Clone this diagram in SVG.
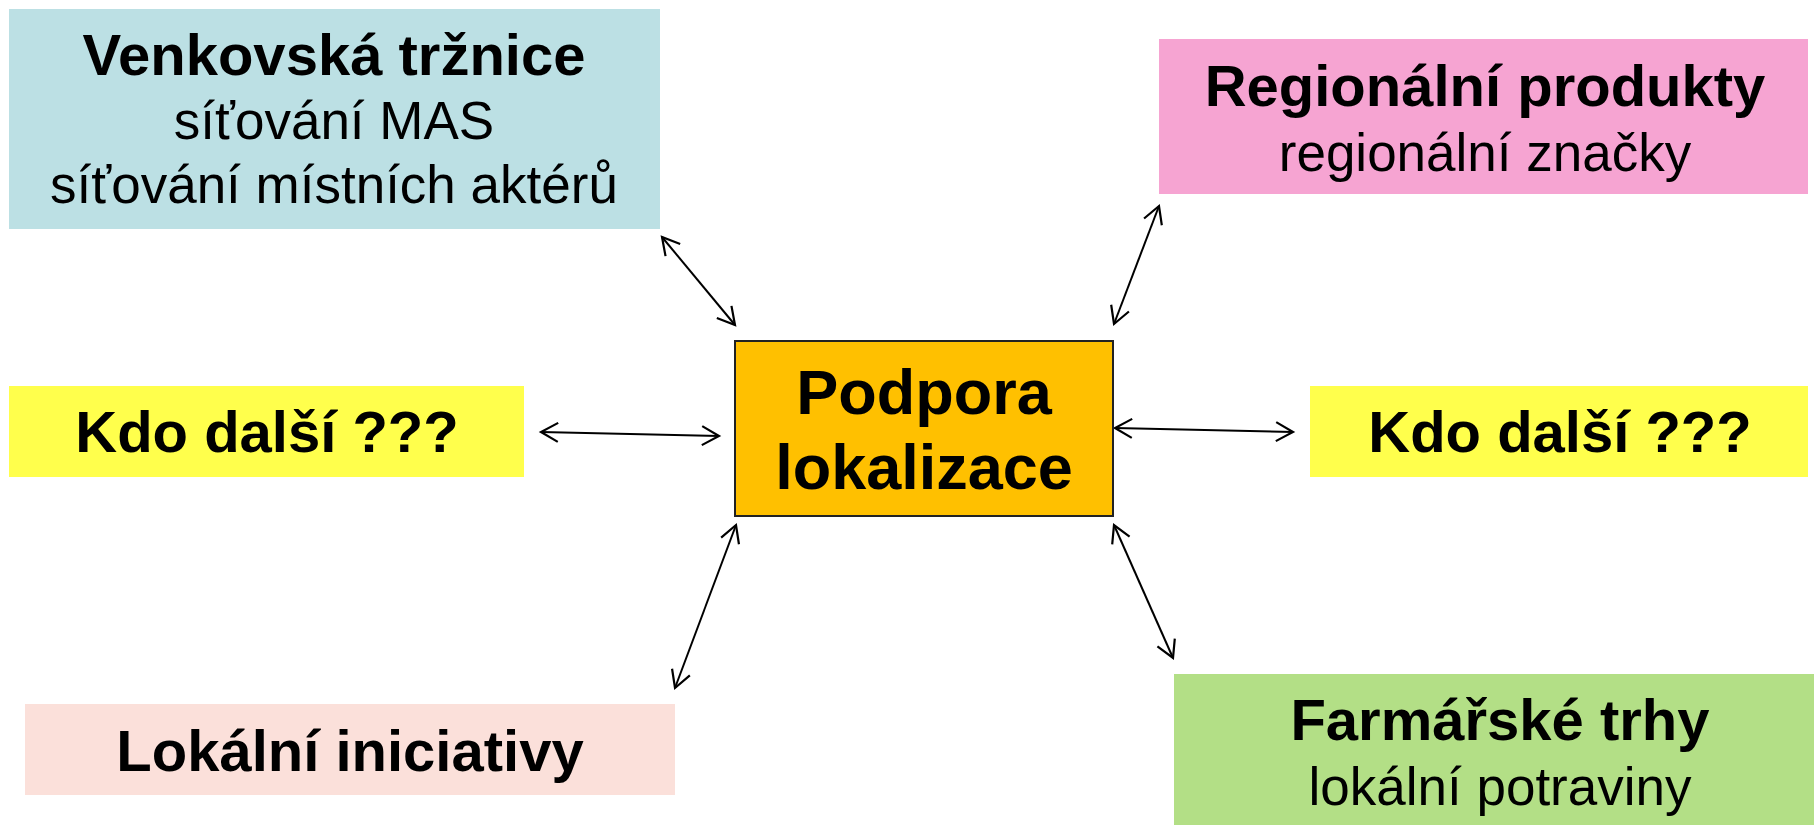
<svg xmlns="http://www.w3.org/2000/svg" width="1814" height="825" viewBox="0 0 1814 825">
<defs>
<style>
.b{font-family:"Liberation Sans",Arial,sans-serif;font-weight:bold;font-size:58px;fill:#000;text-anchor:middle}
.r{font-family:"Liberation Sans",Arial,sans-serif;font-size:53px;fill:#000;text-anchor:middle}
.c{font-family:"Liberation Sans",Arial,sans-serif;font-weight:bold;font-size:63px;fill:#000;text-anchor:middle}
.ln{stroke:#000;stroke-width:2;fill:none;marker-start:url(#ah);marker-end:url(#ah)}
</style>
<marker id="ah" viewBox="-20 -12 24 24" refX="0" refY="0" markerWidth="24" markerHeight="24" markerUnits="userSpaceOnUse" orient="auto-start-reverse">
<path d="M-17,-9.5 L0,0 L-17,9.5" fill="none" stroke="#000" stroke-width="2.2"/>
</marker>
</defs>
<rect width="1814" height="825" fill="#fff"/>
<g id="connectors">
<line class="ln" x1="662" y1="237" x2="735" y2="325"/>
<line class="ln" x1="1159" y1="206" x2="1114" y2="324"/>
<line class="ln" x1="541" y1="432" x2="719" y2="436"/>
<line class="ln" x1="1115" y1="428" x2="1293" y2="432"/>
<line class="ln" x1="736" y1="525" x2="675" y2="688"/>
<line class="ln" x1="1114" y1="525" x2="1173" y2="658"/>
</g>
<g id="venkovska">
<rect x="9" y="9" width="651" height="220" fill="#BCE0E4"/>
<text class="b" x="334" y="75">Venkovská tržnice</text>
<text class="r" x="334" y="139">síťování MAS</text>
<text class="r" x="334" y="203">síťování místních aktérů</text>
</g>
<g id="regionalni">
<rect x="1159" y="39" width="649" height="155" fill="#F6A4D2"/>
<text class="b" x="1485" y="106">Regionální produkty</text>
<text class="r" x="1485" y="171">regionální značky</text>
</g>
<g id="kdo-left">
<rect x="9" y="386" width="515" height="91" fill="#FFFF4C"/>
<text class="b" x="267" y="452">Kdo další ???</text>
</g>
<g id="kdo-right">
<rect x="1310" y="386" width="498" height="91" fill="#FFFF4C"/>
<text class="b" x="1560" y="452">Kdo další ???</text>
</g>
<g id="center">
<rect x="735" y="341" width="378" height="175" fill="#FFC000" stroke="#222" stroke-width="2"/>
<text class="c" x="924" y="414">Podpora</text>
<text class="c" x="924" y="489">lokalizace</text>
</g>
<g id="lokalni">
<rect x="25" y="704" width="650" height="91" fill="#FBE0DA"/>
<text class="b" x="350" y="771">Lokální iniciativy</text>
</g>
<g id="farmarske">
<rect x="1174" y="674" width="652" height="151" fill="#B3DF86"/>
<text class="b" x="1500" y="740">Farmářské trhy</text>
<text class="r" x="1500" y="805">lokální potraviny</text>
</g>
</svg>
